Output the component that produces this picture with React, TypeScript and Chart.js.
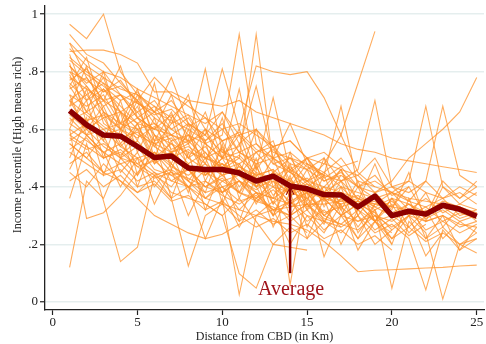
import { useEffect, useRef } from "react";
import { Chart, registerables } from "chart.js";

Chart.register(...registerables);

// ---------- data ----------
const DIST = [1, 2, 3, 4, 5, 6, 7, 8, 9, 10, 11, 12, 13, 14, 15, 16, 17, 18, 19, 20, 21, 22, 23, 24, 25];

const AVERAGE = [0.665, 0.615, 0.58, 0.576, 0.54, 0.502, 0.507, 0.465, 0.46, 0.46, 0.448, 0.42, 0.437, 0.403, 0.393, 0.373, 0.372, 0.33, 0.368, 0.3, 0.315, 0.305, 0.336, 0.322, 0.298];

const X_TICKS = [0, 5, 10, 15, 20, 25];
const Y_TICKS = [0, 0.2, 0.4, 0.6, 0.8, 1];
const Y_TICK_LABELS = ["0", ".2", ".4", ".6", ".8", "1"];

const X_TITLE = "Distance from CBD (in Km)";
const Y_TITLE = "Income percentile (High means rich)";
const LABEL = "Average";
const ARROW_X = 14;
const ARROW_BASE = 0.1;
const LABEL_Y = 0.024;

// city series (income percentile by km from CBD)
const C01 = [0.87, 0.875, 0.875, 0.86, 0.83, 0.73, 0.73, 0.7, 0.69, 0.68, 0.7, 0.66, 0.64, 0.62, 0.6, 0.58, 0.55, 0.53, 0.52, 0.5, 0.49, 0.48, 0.47, 0.46, 0.45];
const C02 = [0.965, 0.915, 1.0, 0.8, 0.72, 0.66, 0.7, 0.62, 0.58, 0.66, 0.55, 0.6, 0.52, 0.5, 0.48, 0.45, 0.5, 0.42, 0.4];
const C03 = [0.93, 0.86, 0.83, 0.76, 0.7, 0.78, 0.72, 0.68, 0.64, 0.6, 0.62, 0.58, 0.54, 0.56, 0.5, 0.48, 0.46, 0.44, 0.5, 0.4, 0.42, 0.38, 0.36, 0.4, 0.37];
const C04 = [0.12, 0.42, 0.36, 0.5, 0.44, 0.52, 0.48, 0.4, 0.46, 0.38, 0.42, 0.36, 0.4, 0.35, 0.38, 0.3, 0.34];
const C05 = [0.36, 0.55, 0.35, 0.14, 0.19, 0.44, 0.4, 0.48, 0.36, 0.42, 0.38, 0.45, 0.34, 0.4, 0.32, 0.36, 0.3, 0.34, 0.28, 0.3, 0.26, 0.32, 0.22, 0.28, 0.24];
const C06 = [0.6, 0.29, 0.31, 0.37, 0.45, 0.5, 0.42, 0.46, 0.4, 0.44, 0.38, 0.36, 0.42, 0.34, 0.4, 0.3, 0.36, 0.32, 0.28, 0.34, 0.24, 0.3];
const C07 = [0.78, 0.74, 0.7, 0.66, 0.62, 0.6, 0.58, 0.55, 0.6, 0.5, 0.48, 0.52, 0.45, 0.5, 0.42, 0.48, 0.58, 0.76, 0.94];
const C08 = [0.85, 0.8, 0.76, 0.72, 0.69, 0.66, 0.78, 0.62, 0.58, 0.81, 0.6, 0.82, 0.8, 0.79, 0.8, 0.71, 0.58, 0.45, 0.4, 0.38, 0.35, 0.33, 0.36, 0.3, 0.32];
const C09 = [0.8, 0.77, 0.73, 0.75, 0.7, 0.64, 0.6, 0.64, 0.55, 0.58, 0.93, 0.55, 0.5, 0.46, 0.42, 0.45, 0.4, 0.38, 0.36, 0.33];
const C10 = [0.76, 0.7, 0.74, 0.68, 0.62, 0.66, 0.58, 0.56, 0.81, 0.52, 0.5, 0.93, 0.48, 0.45, 0.5, 0.42, 0.44, 0.4, 0.42, 0.38, 0.36, 0.35, 0.34];
const C11 = [0.7, 0.65, 0.6, 0.62, 0.58, 0.55, 0.52, 0.54, 0.5, 0.48, 0.45, 0.42, 0.44, 0.4, 0.38, 0.36, 0.4, 0.34, 0.35, 0.3, 0.32, 0.28, 0.3, 0.27, 0.26];
const C12 = [0.82, 0.75, 0.68, 0.72, 0.64, 0.6, 0.65, 0.58, 0.55, 0.5, 0.52, 0.48, 0.5, 0.45, 0.42, 0.4, 0.38, 0.36, 0.33, 0.36, 0.34, 0.31, 0.35, 0.33, 0.31];
const C13 = [0.65, 0.6, 0.68, 0.55, 0.62, 0.5, 0.55, 0.48, 0.52, 0.44, 0.46, 0.4, 0.45, 0.38, 0.42, 0.36, 0.34];
const C14 = [0.55, 0.5, 0.58, 0.45, 0.52, 0.4, 0.48, 0.42, 0.36, 0.4, 0.32, 0.38, 0.3, 0.35, 0.28, 0.32, 0.26];
const C15 = [0.62, 0.58, 0.52, 0.55, 0.48, 0.52, 0.45, 0.43, 0.4, 0.38, 0.42, 0.35, 0.33, 0.3, 0.34, 0.29, 0.27, 0.25, 0.3, 0.22, 0.26, 0.21, 0.24, 0.2, 0.22];
const C16 = [0.72, 0.68, 0.72, 0.62, 0.6, 0.55, 0.57, 0.5, 0.46, 0.48, 0.44, 0.4, 0.42, 0.38, 0.36, 0.4, 0.33, 0.35, 0.3, 0.28, 0.32, 0.25, 0.28, 0.24, 0.27];
const C17 = [0.52, 0.48, 0.44, 0.46, 0.4, 0.42, 0.36, 0.125, 0.3, 0.34, 0.28, 0.32, 0.27, 0.3, 0.24];
const C18 = [0.58, 0.62, 0.56, 0.5, 0.54, 0.46, 0.44, 0.4, 0.22, 0.36, 0.025, 0.3, 0.35, 0.28, 0.32, 0.25, 0.3, 0.22, 0.28, 0.2];
const C19 = [0.48, 0.52, 0.45, 0.48, 0.42, 0.45, 0.38, 0.36, 0.34, 0.3, 0.098, 0.048, 0.2, 0.26, 0.22, 0.28, 0.24, 0.3, 0.2, 0.25];
const C20 = [0.88, 0.82, 0.78, 0.74, 0.72, 0.68, 0.64, 0.7, 0.6, 0.56, 0.58, 0.52, 0.54, 0.48, 0.46, 0.5, 0.42, 0.44, 0.38, 0.4, 0.35, 0.42, 0.36, 0.38, 0.34];
const C21 = [0.68, 0.72, 0.64, 0.66, 0.6, 0.62, 0.56, 0.58, 0.52, 0.46, 0.5, 0.44, 0.46, 0.06, 0.4, 0.36, 0.38, 0.34, 0.31, 0.25, 0.3, 0.28, 0.3, 0.26, 0.28];
const C22 = [0.75, 0.66, 0.7, 0.6, 0.64, 0.56, 0.58, 0.5, 0.54, 0.46, 0.48, 0.4, 0.45, 0.42, 0.38, 0.157, 0.3, 0.34, 0.28, 0.24];
const C23 = [0.6, 0.56, 0.52, 0.48, 0.5, 0.45, 0.42, 0.4, 0.36, 0.34, 0.32, 0.3, 0.28, 0.27, 0.25, 0.21, 0.16, 0.105, 0.11, 0.112, 0.115, 0.118, 0.12, 0.125, 0.128];
const C24 = [0.64, 0.58, 0.6, 0.54, 0.5, 0.52, 0.47, 0.44, 0.48, 0.4, 0.42, 0.38, 0.36, 0.4, 0.33, 0.36, 0.3, 0.28, 0.32, 0.047, 0.28, 0.22, 0.26, 0.2, 0.24];
const C25 = [0.56, 0.6, 0.54, 0.5, 0.48, 0.44, 0.46, 0.42, 0.38, 0.4, 0.35, 0.37, 0.32, 0.3, 0.34, 0.28, 0.26, 0.3, 0.24, 0.27, 0.22, 0.042, 0.25, 0.18, 0.22];
const C26 = [0.66, 0.62, 0.58, 0.6, 0.55, 0.5, 0.52, 0.47, 0.45, 0.42, 0.44, 0.38, 0.36, 0.34, 0.38, 0.31, 0.33, 0.28, 0.3, 0.26, 0.3, 0.24, 0.01, 0.2, 0.17];
const C27 = [0.8, 0.72, 0.76, 0.66, 0.7, 0.62, 0.58, 0.62, 0.55, 0.5, 0.74, 0.46, 0.71, 0.45, 0.4, 0.44, 0.68, 0.4, 0.36, 0.38, 0.42, 0.68, 0.4, 0.36, 0.42];
const C28 = [0.74, 0.78, 0.7, 0.72, 0.64, 0.68, 0.6, 0.56, 0.58, 0.52, 0.54, 0.75, 0.5, 0.62, 0.48, 0.44, 0.42, 0.46, 0.7, 0.4, 0.38, 0.42, 0.68, 0.44, 0.4];
const C29 = [0.84, 0.79, 0.75, 0.7, 0.73, 0.66, 0.63, 0.6, 0.56, 0.62, 0.52, 0.55, 0.48, 0.5, 0.46, 0.42, 0.45, 0.4, 0.38, 0.42, 0.5, 0.55, 0.6, 0.66, 0.78];
const C30 = [0.45, 0.4, 0.48, 0.42, 0.38, 0.44, 0.36, 0.4, 0.34, 0.3, 0.36, 0.28, 0.2, 0.19, 0.18];
const C31 = [0.7, 0.75, 0.66, 0.62, 0.66, 0.58, 0.55, 0.52, 0.5, 0.53, 0.47, 0.44, 0.46, 0.41, 0.43, 0.38, 0.35, 0.37, 0.33, 0.3, 0.34, 0.29, 0.32, 0.28, 0.3];
const C32 = [0.58, 0.54, 0.5, 0.52, 0.47, 0.49, 0.44, 0.46, 0.4, 0.43, 0.38, 0.35, 0.39, 0.33, 0.36, 0.3, 0.27, 0.32, 0.25, 0.29, 0.23, 0.27];
const C33 = [0.9, 0.84, 0.8, 0.78, 0.74, 0.71, 0.68, 0.65, 0.62, 0.66, 0.58, 0.6, 0.54, 0.56, 0.5, 0.52, 0.47, 0.49];
const C34 = [0.63, 0.66, 0.61, 0.57, 0.59, 0.54, 0.5, 0.53, 0.48, 0.44, 0.47, 0.43, 0.4, 0.38, 0.41, 0.37, 0.34, 0.36, 0.32, 0.35, 0.3, 0.33, 0.28, 0.31, 0.29];
const C35 = [0.53, 0.57, 0.5, 0.53, 0.47, 0.43, 0.45, 0.4, 0.42, 0.37, 0.34, 0.38, 0.32, 0.35, 0.3, 0.28];
const C36 = [0.77, 0.81, 0.73, 0.77, 0.69, 0.65, 0.67, 0.61, 0.64, 0.56, 0.59, 0.53, 0.5, 0.52, 0.47, 0.44];
const C37 = [0.42, 0.46, 0.4, 0.44, 0.38, 0.41, 0.35, 0.37, 0.32, 0.35, 0.3, 0.26, 0.29, 0.24, 0.27, 0.22, 0.25, 0.2, 0.23, 0.18];
const C38 = [0.82, 0.76, 0.8, 0.72, 0.66, 0.7, 0.62, 0.65, 0.56, 0.6, 0.52, 0.49, 0.53, 0.46, 0.5, 0.43, 0.47, 0.4, 0.44, 0.37, 0.4];
const C39 = [0.67, 0.63, 0.65, 0.6, 0.57, 0.61, 0.53, 0.56, 0.5, 0.47, 0.51, 0.45, 0.43, 0.47, 0.41, 0.38, 0.42, 0.36, 0.34, 0.38, 0.32, 0.36, 0.31, 0.34, 0.32];
const C40 = [0.57, 0.53, 0.55, 0.51, 0.56, 0.49, 0.52, 0.47, 0.44, 0.48, 0.42, 0.39, 0.43, 0.37, 0.4, 0.35, 0.38, 0.33, 0.36, 0.31, 0.34, 0.3, 0.33, 0.29, 0.31];
const C41 = [0.55, 0.5, 0.45, 0.42, 0.36, 0.3, 0.27, 0.24, 0.22, 0.235, 0.27, 0.3, 0.32, 0.33, 0.34, 0.34, 0.35, 0.35, 0.34, 0.33, 0.32];
const C42 = [0.72, 0.58, 0.66, 0.5, 0.62, 0.48, 0.56, 0.42, 0.5, 0.38, 0.46, 0.34, 0.44, 0.3, 0.4, 0.28, 0.36, 0.26, 0.34];
const C43 = [0.86, 0.7, 0.78, 0.62, 0.74, 0.56, 0.66, 0.5, 0.6, 0.46, 0.55, 0.4, 0.5, 0.36, 0.46, 0.33, 0.42, 0.3];
const C44 = [0.6, 0.74, 0.56, 0.7, 0.52, 0.64, 0.46, 0.6, 0.42, 0.54, 0.38, 0.5, 0.34, 0.48, 0.32, 0.44, 0.3, 0.4, 0.28, 0.36, 0.26];
const C45 = [0.79, 0.66, 0.8, 0.6, 0.68, 0.54, 0.62, 0.72, 0.5, 0.56, 0.44, 0.6, 0.4, 0.46, 0.36];
const C46 = [0.68, 0.82, 0.62, 0.58, 0.7, 0.5, 0.64, 0.46, 0.38, 0.55, 0.36, 0.48, 0.3, 0.42, 0.34, 0.27, 0.4, 0.24, 0.32, 0.2, 0.36, 0.22, 0.3, 0.18, 0.26];
const C47 = [0.5, 0.64, 0.44, 0.6, 0.4, 0.56, 0.36, 0.52, 0.32, 0.46, 0.28, 0.44, 0.26, 0.38, 0.22, 0.36, 0.2, 0.32];
const C48 = [0.83, 0.62, 0.74, 0.66, 0.56, 0.76, 0.52, 0.58, 0.48, 0.64, 0.44, 0.52, 0.56, 0.4, 0.48, 0.36, 0.44];
const C49 = [0.75, 0.85, 0.66, 0.6, 0.72, 0.58, 0.48, 0.62, 0.44, 0.5, 0.58, 0.42, 0.36, 0.52, 0.34, 0.4, 0.46, 0.3, 0.38, 0.32, 0.45, 0.28, 0.4, 0.34, 0.38];
const C50 = [0.62, 0.7, 0.5, 0.66, 0.44, 0.58, 0.52, 0.38, 0.56, 0.34, 0.48, 0.4, 0.3, 0.44, 0.26, 0.38, 0.32, 0.22, 0.34];
const C51 = [0.9, 0.78, 0.7, 0.82, 0.64, 0.6, 0.72, 0.55, 0.66, 0.5, 0.6, 0.46, 0.54, 0.42, 0.5, 0.38, 0.46, 0.35, 0.48, 0.33, 0.4, 0.3, 0.42, 0.36, 0.4];
const C52 = [0.46, 0.58, 0.52, 0.4, 0.5, 0.34, 0.46, 0.3, 0.42, 0.38, 0.26, 0.36, 0.32, 0.2, 0.3, 0.24, 0.34, 0.18, 0.28, 0.22, 0.3, 0.16, 0.24];
const C53 = [0.7, 0.6, 0.64, 0.54, 0.6, 0.48, 0.52, 0.55, 0.44, 0.5, 0.4, 0.47, 0.37, 0.43, 0.35, 0.5, 0.32, 0.42, 0.28, 0.36, 0.3, 0.38, 0.26, 0.33, 0.28];

const CITIES = [C01, C02, C03, C04, C05, C06, C07, C08, C09, C10, C11, C12, C13, C14, C15, C16, C17, C18, C19, C20, C21, C22, C23, C24, C25, C26, C27, C28, C29, C30, C31, C32, C33, C34, C35, C36, C37, C38, C39, C40, C41, C42, C43, C44, C45, C46, C47, C48, C49, C50, C51, C52, C53];

// ---------- styles ----------
const SERIF = '"Liberation Serif", "DejaVu Serif", serif';
const ORANGE = "rgba(255,146,42,0.75)";
const DARK_RED = "#8e0000";
const LABEL_COLOR = "#a0141c";
const AXIS = "#222222";
const TEXT = "#222222";
const GRID = "rgba(226,236,236,0.9)";

const toPoints = (vals: number[]) => vals.map((v, i) => ({ x: DIST[i], y: v }));

const annotate = {
  id: "annotate",
  afterDatasetsDraw(chart: any) {
    const { ctx, scales } = chart;
    const xs = scales.x;
    const ys = scales.y;
    const px = xs.getPixelForValue(ARROW_X);
    const tipY = ys.getPixelForValue(AVERAGE[DIST.indexOf(ARROW_X)]);
    const baseY = ys.getPixelForValue(ARROW_BASE);
    ctx.save();
    ctx.strokeStyle = DARK_RED;
    ctx.lineWidth = 2.5;
    ctx.beginPath();
    ctx.moveTo(px, baseY);
    ctx.lineTo(px, tipY);
    ctx.stroke();
    ctx.lineWidth = 1;
    ctx.beginPath();
    ctx.moveTo(px - 4, tipY + 9);
    ctx.lineTo(px, tipY + 1);
    ctx.lineTo(px + 4, tipY + 9);
    ctx.stroke();
    ctx.fillStyle = LABEL_COLOR;
    ctx.font = `20px ${SERIF}`;
    ctx.textAlign = "center";
    ctx.textBaseline = "alphabetic";
    ctx.fillText(LABEL, px + 1, ys.getPixelForValue(LABEL_Y));
    ctx.restore();
  },
  afterDraw(chart: any) {
    const { ctx } = chart;
    ctx.save();
    ctx.translate(18, 145);
    ctx.rotate(-Math.PI / 2);
    ctx.fillStyle = TEXT;
    ctx.font = `12px ${SERIF}`;
    ctx.textAlign = "center";
    ctx.textBaseline = "middle";
    ctx.fillText(Y_TITLE, 0, 0);
    ctx.restore();
  },
};

export default function App() {
  const ref = useRef<HTMLCanvasElement | null>(null);

  useEffect(() => {
    if (!ref.current) return;
    const datasets: any[] = [
      {
        label: LABEL,
        data: toPoints(AVERAGE),
        borderColor: DARK_RED,
        borderWidth: 5.5,
        borderJoinStyle: "round",
        pointRadius: 0,
        fill: false,
      },
      ...CITIES.map((c, i) => ({
        label: `City ${i + 1}`,
        data: toPoints(c),
        borderColor: ORANGE,
        borderWidth: 1.1,
        pointRadius: 0,
        fill: false,
      })),
    ];
    const chart = new Chart(ref.current, {
      type: "line",
      data: { datasets },
      options: {
        animation: false,
        responsive: false,
        layout: { padding: { top: 5.5, right: 2, left: 0, bottom: 0 } },
        plugins: { legend: { display: false }, tooltip: { enabled: false } },
        scales: {
          x: {
            type: "linear",
            min: -0.45,
            max: 25.43,
            afterBuildTicks: (s: any) => {
              s.ticks = X_TICKS.map((v) => ({ value: v }));
            },
            afterFit: (s: any) => {
              s.height = 34;
              s.paddingLeft = 0;
              s.paddingRight = 0;
            },
            grid: { drawOnChartArea: false, tickLength: 5, tickColor: AXIS, tickWidth: 1.2 },
            border: { color: AXIS, width: 1.3 },
            ticks: { padding: 0, color: TEXT, font: { family: SERIF, size: 13 }, maxRotation: 0 },
            title: { display: true, text: X_TITLE, color: TEXT, font: { family: SERIF, size: 12 }, padding: { top: 0, bottom: 0 } },
          },
          y: {
            type: "linear",
            min: -0.028,
            max: 1.03,
            afterBuildTicks: (s: any) => {
              s.ticks = Y_TICKS.map((v) => ({ value: v }));
            },
            afterFit: (s: any) => {
              s.width = 45;
              s.paddingTop = 0;
              s.paddingBottom = 0;
            },
            grid: { color: GRID, lineWidth: 1.5, tickLength: 5, tickColor: AXIS, tickWidth: 1.2 },
            border: { color: AXIS, width: 1.3 },
            ticks: {
              padding: 2,
              color: TEXT,
              font: { family: SERIF, size: 13 },
              callback: (_v: any, i: number) => Y_TICK_LABELS[i],
            },
            title: { display: false },
          },
        },
      },
      plugins: [annotate],
    });
    return () => chart.destroy();
  }, []);

  return (
    <div style={{ position: "absolute", left: 0, top: 0, width: 486, height: 344, background: "#fff" }}>
      <canvas ref={ref} width={486} height={344} />
    </div>
  );
}
